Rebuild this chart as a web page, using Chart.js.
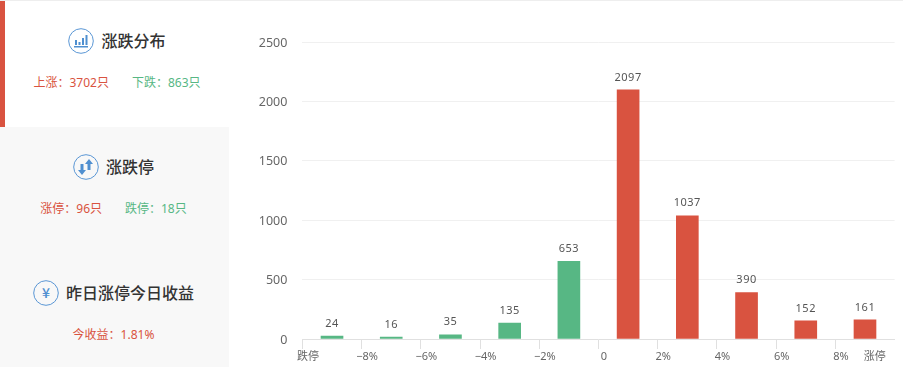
<!DOCTYPE html>
<html>
<head>
<meta charset="utf-8">
<script src="https://cdn.jsdelivr.net/npm/chart.js@4/dist/chart.umd.min.js"></script>
<style>
  html, body { margin: 0; padding: 0; background: #fff; overflow: hidden; }
  body { width: 903px; height: 367px; position: relative; font-family: "Noto Sans CJK SC", sans-serif; }
  #topline { position: absolute; left: 0; top: 0; width: 903px; height: 1px; background: #eee; }
  #side { position: absolute; left: 0; top: 1px; width: 229px; height: 366px; background: #f8f8f8; }
  .card { position: absolute; left: 0; width: 229px; text-align: center; box-sizing: border-box; padding-right: 2px; }
  .card.on { background: #fff; border-left: 5px solid #d95340; padding-right: 0; }
  .head { display: flex; justify-content: center; align-items: center; margin-bottom: 0;
          font-size: 16px; font-weight: 500; color: #333; line-height: 26px; }
  .head svg { margin-right: 7px; transform: translateY(1px); }
  .sub { font-size: 12px; line-height: 18px; white-space: nowrap; font-family: "Noto Sans", "Noto Sans CJK SC", sans-serif; }
  .up { color: #d95340; }
  .down { color: #57b784; }
  .sub .down { margin-left: 23px; }
  #wrap { position: absolute; left: 229px; top: 0; width: 674px; height: 367px; }
</style>
</head>
<body>
<div id="topline"></div>
<div id="side">
  <div class="card on" style="top:0;height:126px;padding-top:26px">
    <div class="head">
      <svg width="26" height="26" viewBox="0 0 26 26"><circle cx="13" cy="13" r="12.300" fill="none" stroke="#5b97d5" stroke-width="1"/><path d="M7 12h2v5H7zM10.500 14h2v3h-2zM14 10h2v7h-2zM17.500 7h2v10h-2zM6 18h14v1.500H6z" fill="#4f8fd0"/></svg>
      <span>涨跌分布</span>
    </div>
    <div class="sub" style="margin-top:21px"><span class="up">上涨：3702只</span><span class="down">下跌：863只</span></div>
  </div>
  <div class="card" style="top:126px;height:120px;padding-top:26px">
    <div class="head">
      <svg width="26" height="26" viewBox="0 0 26 26"><circle cx="13" cy="13" r="12.300" fill="none" stroke="#5b97d5" stroke-width="1"/><path d="M7.500 10h3v6h2.500l-4 5-4-5h2.500zM14.500 16v-6H12l4-5 4 5h-2.500v6z" fill="#4f8fd0"/></svg>
      <span>涨跌停</span>
    </div>
    <div class="sub" style="margin-top:21px"><span class="up">涨停：96只</span><span class="down">跌停：18只</span></div>
  </div>
  <div class="card" style="top:246px;height:120px;padding-top:32px">
    <div class="head">
      <svg width="26" height="26" viewBox="0 0 26 26"><circle cx="13" cy="13" r="12.300" fill="none" stroke="#5b97d5" stroke-width="1"/><text x="13" y="18" text-anchor="middle" font-size="14" fill="#4f8fd0">¥</text></svg>
      <span>昨日涨停今日收益</span>
    </div>
    <div class="sub" style="margin-top:21px"><span class="up">今收益：1.81%</span></div>
  </div>
</div>
<div id="wrap"><canvas id="chart"></canvas></div>
<script>
const categories = ["跌停~-8%", "-8~-6%", "-6~-4%", "-4~-2%", "-2~0%", "0~2%", "2~4%", "4~6%", "6~8%", "8%~涨停"];
const stockCounts = [24, 16, 35, 135, 653, 2097, 1037, 390, 152, 161];
const tickLabels = ["跌停", "−8%", "−6%", "−4%", "−2%", "0", "2%", "4%", "6%", "8%", "涨停"];
const barColors = ["#57b784", "#57b784", "#57b784", "#57b784", "#57b784", "#d95340", "#d95340", "#d95340", "#d95340", "#d95340"];

const FONT = '"Noto Sans", "Noto Sans CJK SC", sans-serif';

// value labels above each bar
const barValues = {
  id: "barValues",
  afterDatasetsDraw(chart) {
    const { ctx } = chart;
    ctx.save();
    ctx.font = "11px " + FONT;
    ctx.fillStyle = "#555";
    ctx.textAlign = "center";
    ctx.textBaseline = "bottom";
    ctx.letterSpacing = "0.5px";
    chart.getDatasetMeta(0).data.forEach((bar, i) => {
      ctx.fillText(stockCounts[i], bar.x, bar.y - 7);
    });
    ctx.restore();
  },
};

new Chart(document.getElementById("chart"), {
  type: "bar",
  data: {
    labels: categories,
    datasets: [{ data: stockCounts, backgroundColor: barColors, barThickness: 22 }],
  },
  plugins: [barValues],
  options: {
    responsive: true,
    maintainAspectRatio: false,
    animation: false,
    layout: { padding: { top: 42, right: 8.4, bottom: 0, left: 0 } },
    plugins: { legend: { display: false }, tooltip: { enabled: false } },
    scales: {
      x: {
        grid: {
          offset: true,
          drawOnChartArea: false,
          tickLength: 10,
          tickColor: (c) => (c.type === "tick" ? "#e0e0e0" : "transparent"),  // no tick at the far right end
        },
        border: { color: "#e0e0e0" },
        ticks: { display: false },
        afterFit: (s) => { s.height = 10; },
      },
      // labels sit on the bin edges, so they get their own axis
      edges: {
        type: "linear",
        position: "bottom",
        offset: false,
        min: 0,
        max: 10,
        grid: { display: false, drawTicks: false },
        border: { display: false },
        afterBuildTicks: (s) => { s.ticks[10].value = 9.57; },
        afterFit: (s) => { s.height = 18; },
        ticks: {
          stepSize: 1,
          autoSkip: false,
          maxRotation: 0,
          padding: 1,
          labelOffset: 5.5,
          color: "#666",
          font: { family: FONT, size: 11 },
          callback: (v, i) => tickLabels[i],
        },
      },
      y: {
        min: 0,
        max: 2500,
        grid: { color: "#f0f0f0", drawTicks: false },
        border: { display: false },
        afterFit: (s) => { s.width = 73.4; },
        ticks: {
          stepSize: 500,
          padding: 15,
          labelOffset: 1,
          color: "#666",
          font: { family: FONT, size: 12.5 },
          callback: (v) => String(v),
        },
      },
    },
  },
});
</script>
</body>
</html>
